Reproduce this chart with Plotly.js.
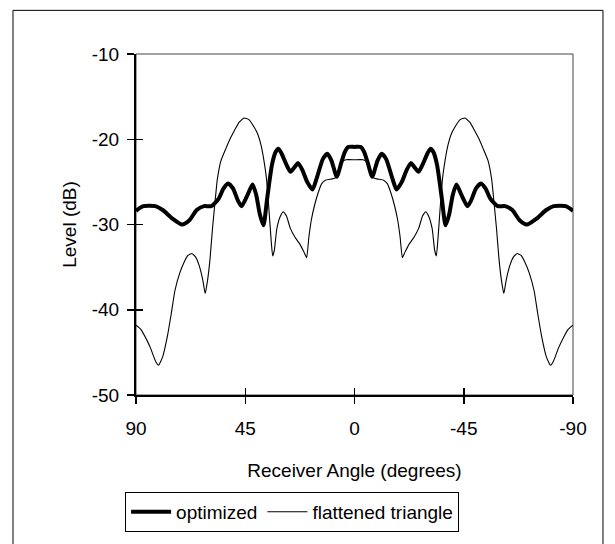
<!DOCTYPE html>
<html>
<head>
<meta charset="utf-8">
<script src="https://cdn.plot.ly/plotly-3.0.1.min.js"></script>
<style>
html,body{margin:0;padding:0;background:#fff;}
#chart{width:615px;height:544px;}
</style>
</head>
<body>
<div id="chart"></div>
<script>
// Receiver angle (degrees) and level (dB)
const optAngle = [90, 87, 82, 79, 75, 71, 68, 65, 62, 59, 56, 54, 52, 50, 48, 46.5, 44, 42, 40.5, 39, 37.5, 36, 34, 32.5, 31.3, 30, 28, 26.4, 24.5, 23.2, 21.5, 19.5, 17.3, 15.5, 13, 11.2, 9.5, 7.3, 5.5, 4, 2.6, 0,
  -2.6, -4, -5.5, -7.3, -9.5, -11.2, -13, -15.5, -17.3, -19.5, -21.5, -23.2, -24.5, -26.4, -28, -30, -31.3, -32.5, -34, -36, -37.5, -39, -40.5, -42, -44, -46.5, -48, -50, -52, -54, -56, -59, -62, -65, -68, -71, -75, -79, -82, -87, -90];
const optLevel = [-28.4, -27.85, -27.85, -28.3, -29.3, -30.0, -29.5, -28.3, -27.85, -27.85, -27.0, -25.8, -25.2, -25.8, -27.2, -27.85, -26.5, -25.3, -26.5, -28.8, -30.1, -27.0, -23.0, -21.5, -21.1, -21.7, -23.0, -23.8, -23.2, -22.8, -23.6, -25.0, -25.9, -24.5, -22.3, -21.7, -22.5, -24.4, -22.8, -21.5, -20.9, -20.9,
  -20.9, -21.5, -22.8, -24.4, -22.5, -21.7, -22.3, -24.5, -25.9, -25.0, -23.6, -22.8, -23.2, -23.8, -23.0, -21.7, -21.1, -21.5, -23.0, -27.0, -30.1, -28.8, -26.5, -25.3, -26.5, -27.85, -27.2, -25.8, -25.2, -25.8, -27.0, -27.85, -27.85, -28.3, -29.5, -30.0, -29.3, -28.3, -27.85, -27.85, -28.4];

const triAngle = [90, 88, 86, 84, 82, 80.7, 79, 77, 75.5, 74, 72, 70, 68.5, 67, 65.5, 64, 62.5, 61.5, 60.5, 59.5, 58.5, 57.5, 56.5, 55, 53, 51, 49.5, 47.5, 45.5, 43.5, 41.5, 40, 38.5, 37.3, 36.3, 35.3, 34.3, 33.7, 33, 32, 30.5, 29.3, 28, 26.5, 24.5, 22.5, 20.7, 19.7, 18.8, 17.8, 16.5, 15, 13.5, 12, 10, 8, 6.5, 5, 3.5, 0,
  -3.5, -5, -6.5, -8, -10, -12, -13.5, -15, -16.5, -17.8, -18.8, -19.7, -20.7, -22.5, -24.5, -26.5, -28, -29.3, -30.5, -32, -33, -33.7, -34.3, -35.3, -36.3, -37.3, -38.5, -40, -41.5, -43.5, -45.5, -47.5, -49.5, -51, -53, -55, -56.5, -57.5, -58.5, -59.5, -60.5, -61.5, -62.5, -64, -65.5, -67, -68.5, -70, -72, -74, -75.5, -77, -79, -80.7, -82, -84, -86, -88, -90];
const triLevel = [-41.8, -42.3, -43.3, -44.5, -46.0, -46.5, -45.5, -43.0, -40.5, -37.8, -35.7, -34.3, -33.6, -33.4, -33.8, -34.8, -36.5, -38.1, -36.5, -34.0, -30.5, -27.5, -24.7, -22.5, -21.1, -19.8, -19.0, -18.0, -17.5, -17.7, -18.5, -19.3, -20.7, -22.5, -24.5, -28.0, -32.0, -33.7, -33.0, -30.5, -29.0, -28.5, -29.0, -30.4, -31.5, -32.3, -33.3, -33.9, -31.5, -29.5, -27.8, -26.3, -25.2, -24.8, -24.7, -24.55, -24.0, -22.6, -22.4, -22.4,
  -22.4, -22.6, -24.0, -24.55, -24.7, -24.8, -25.2, -26.3, -27.8, -29.5, -31.5, -33.9, -33.3, -32.3, -31.5, -30.4, -29.0, -28.5, -29.0, -30.5, -33.0, -33.7, -32.0, -28.0, -24.5, -22.5, -20.7, -19.3, -18.5, -17.7, -17.5, -18.0, -19.0, -19.8, -21.1, -22.5, -24.7, -27.5, -30.5, -34.0, -36.5, -38.1, -36.5, -34.8, -33.8, -33.4, -33.6, -34.3, -35.7, -37.8, -40.5, -43.0, -45.5, -46.5, -46.0, -44.5, -43.3, -42.3, -41.8];

const xTicks = [90, 45, 0, -45, -90];
const xTickText = ['90', '45', '0', '-45', '-90'];
const yTicks = [-50, -40, -30, -20, -10];
const yTickText = ['-50', '-40', '-30', '-20', '-10'];
const seriesNames = ['optimized', 'flattened triangle'];

const FONT = 'Liberation Sans, Arial, sans-serif';

const traces = [
  {x: optAngle, y: optLevel, name: seriesNames[0], mode: 'lines', type: 'scatter',
   line: {color: '#000', width: 4, shape: 'spline', smoothing: 0.6}},
  {x: triAngle, y: triLevel, name: seriesNames[1], mode: 'lines', type: 'scatter',
   line: {color: '#000', width: 1.1, shape: 'spline', smoothing: 0.4}},
  {x: [], y: [], xaxis: 'x2', yaxis: 'y2', showlegend: false, hoverinfo: 'skip', type: 'scatter'}
];

const layout = {
  width: 615, height: 544,
  margin: {l: 136, r: 42, t: 54, b: 139},
  paper_bgcolor: '#fff', plot_bgcolor: '#fff',
  font: {family: FONT, size: 19, color: '#000'},
  showlegend: true,
  legend: {orientation: 'h', x: -0.025, xanchor: 'left', y: -0.284, yanchor: 'top',
    bordercolor: '#000', borderwidth: 1, bgcolor: '#fff',
    font: {family: FONT, size: 19, color: '#000'}, tracegroupgap: 0, itemwidth: 40},
  xaxis: {range: [90, -90], tickvals: xTicks, ticktext: xTickText, ticks: 'outside', ticklen: 7,
    tickcolor: '#000', tickwidth: 1.5, showgrid: false, zeroline: false, showline: true,
    linecolor: '#000', linewidth: 2, tickfont: {size: 19}, ticklabelstandoff: 8,
    title: {text: 'Receiver Angle (degrees)', font: {size: 19}, standoff: 26}},
  yaxis: {range: [-50, -10], tickvals: yTicks, ticktext: yTickText, ticks: 'outside', ticklen: 7,
    tickcolor: '#000', tickwidth: 1.5, showgrid: false, zeroline: false, showline: true,
    linecolor: '#000', linewidth: 2, tickfont: {size: 19}, ticklabelstandoff: 4,
    title: {text: 'Level (dB)', font: {size: 19}, standoff: 10}},
  xaxis2: {range: [90, -90], overlaying: 'x', anchor: 'y2', tickvals: xTicks, ticks: 'inside', ticklen: 7,
    tickcolor: '#000', tickwidth: 1.5, showticklabels: false, showgrid: false, zeroline: false, showline: false},
  yaxis2: {range: [-50, -10], overlaying: 'y', anchor: 'x2', tickvals: yTicks, ticks: 'inside', ticklen: 7,
    tickcolor: '#000', tickwidth: 1.5, showticklabels: false, showgrid: false, zeroline: false, showline: false},
  shapes: [
    {type: 'rect', xref: 'paper', yref: 'paper', x0: 0, x1: 1, y0: 0, y1: 1,
     line: {color: '#444', width: 1}, layer: 'below'},
    {type: 'rect', xref: 'paper', yref: 'paper', x0: -0.2815, x1: 1.0686, y0: -0.45, y1: 1.128,
     line: {color: '#000', width: 1}, layer: 'below'}
  ]
};

Plotly.newPlot('chart', traces, layout, {staticPlot: true, displayModeBar: false});
</script>
</body>
</html>
